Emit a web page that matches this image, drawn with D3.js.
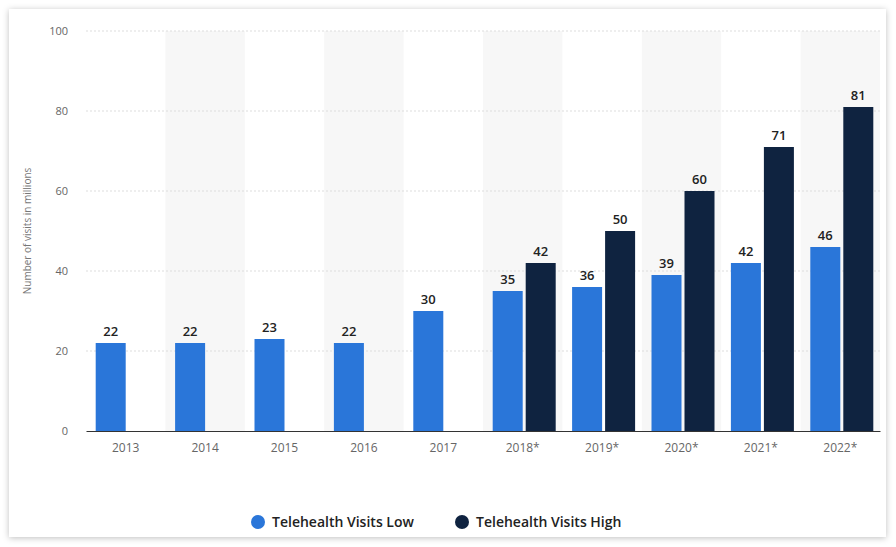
<!DOCTYPE html>
<html><head><meta charset="utf-8">
<script src="https://cdn.jsdelivr.net/npm/d3@7"></script>
<style>body{margin:0;background:#fff;font-family:"Open Sans",sans-serif}</style>
</head><body>
<svg id="c" width="896" height="547"></svg>
<script>
const categories=["2013","2014","2015","2016","2017","2018*","2019*","2020*","2021*","2022*"];
const lowValues=[22,22,23,22,30,35,36,39,42,46];
const highValues=[null,null,null,null,null,42,50,60,71,81];
const yTicks=[0,20,40,60,80,100];
const seriesNames=["Telehealth Visits Low","Telehealth Visits High"];
const colors=["#2a76d9","#0f2340"];

const svg=d3.select("#c");
const defs=svg.append("defs");
const f=defs.append("filter").attr("id","sh").attr("x","-5%").attr("y","-5%").attr("width","110%").attr("height","110%");
f.append("feDropShadow").attr("dx",0).attr("dy",1).attr("stdDeviation",3).attr("flood-color","#000").attr("flood-opacity",0.25);
svg.append("rect").attr("x",9).attr("y",9).attr("width",877).attr("height",528).attr("fill","#fff").attr("filter","url(#sh)");

const L=86,R=880,T=31,B=431;
const x=d3.scaleBand().domain(categories).range([L,R]);
const y=d3.scaleLinear().domain([0,100]).range([B,T]);
const g=svg.append("g");
categories.forEach((c,i)=>{ if(i%2===1) g.append("rect").attr("x",x(c)).attr("y",T).attr("width",x.bandwidth()).attr("height",B-T).attr("fill","#f7f7f7");});
yTicks.filter(t=>t>0).forEach(t=>g.append("line").attr("x1",L).attr("x2",R).attr("y1",y(t)).attr("y2",y(t)).attr("stroke","#ddd").attr("stroke-dasharray","2,2"));
const ya=g.append("g").attr("transform",`translate(${L},0)`).call(d3.axisLeft(y).tickValues(yTicks).tickSize(0).tickPadding(18));
ya.select(".domain").remove();
ya.selectAll("text").attr("fill","#666").attr("font-size",11).attr("font-family","Open Sans");
const xa=g.append("g").attr("transform",`translate(0,${B})`).call(d3.axisBottom(x).tickSize(0).tickPadding(12));
xa.select(".domain").attr("stroke","#333");
xa.selectAll("text").attr("fill","#666").attr("font-size",12).attr("font-family","Open Sans");
g.append("text").attr("transform",`translate(31,${(T+B)/2}) rotate(-90)`).attr("text-anchor","middle").attr("font-size",10).attr("fill","#777").text("Number of visits in millions");

const bw=30,gap=3;
function bars(vals,ci,off){
  vals.forEach((v,i)=>{ if(v==null) return;
    const cx=x(categories[i])+x.bandwidth()/2+off;
    g.append("rect").attr("x",cx).attr("y",y(v)).attr("width",bw).attr("height",B-y(v)).attr("fill",colors[ci]);
    g.append("text").attr("x",cx+bw/2).attr("y",y(v)-7).attr("text-anchor","middle").attr("font-size",13).attr("font-weight",600).attr("fill","#222").text(v);
  });
}
lowValues.forEach((v,i)=>{});
bars(lowValues.map((v,i)=>v),0,0);
// low bars: first five are centered-left per reference
g.selectAll("*").filter(function(){return false;});
bars(highValues,1,bw+gap);
// shift low bars left of center
svg.selectAll("rect").filter(function(){return d3.select(this).attr("fill")===colors[0];}).attr("x",function(){return +d3.select(this).attr("x")-bw;});
svg.selectAll("text").filter(function(){return d3.select(this).attr("font-weight")==600 && lowValues.includes(+d3.select(this).text()) && !this.__high;});
// fix low labels: recompute
g.selectAll("text").filter(function(){return d3.select(this).attr("font-weight")==600;}).remove();
lowValues.forEach((v,i)=>{const cx=x(categories[i])+x.bandwidth()/2-bw;g.append("text").attr("x",cx+bw/2).attr("y",y(v)-7).attr("text-anchor","middle").attr("font-size",13).attr("font-weight",600).attr("fill","#222").text(v);});
highValues.forEach((v,i)=>{if(v==null)return;const cx=x(categories[i])+x.bandwidth()/2+gap;g.append("text").attr("x",cx+bw/2).attr("y",y(v)-7).attr("text-anchor","middle").attr("font-size",13).attr("font-weight",600).attr("fill","#222").text(v);});
svg.selectAll("rect").filter(function(){return d3.select(this).attr("fill")===colors[1];}).attr("x",function(){return +d3.select(this).attr("x")-bw;});

const leg=svg.append("g");
const lx=[258,462];
seriesNames.forEach((n,i)=>{
  leg.append("circle").attr("cx",lx[i]).attr("cy",522).attr("r",7).attr("fill",colors[i]);
  leg.append("text").attr("x",lx[i]+14).attr("y",527).attr("font-size",14).attr("font-weight",600).attr("fill","#222").text(n);
});
</script></body></html>
